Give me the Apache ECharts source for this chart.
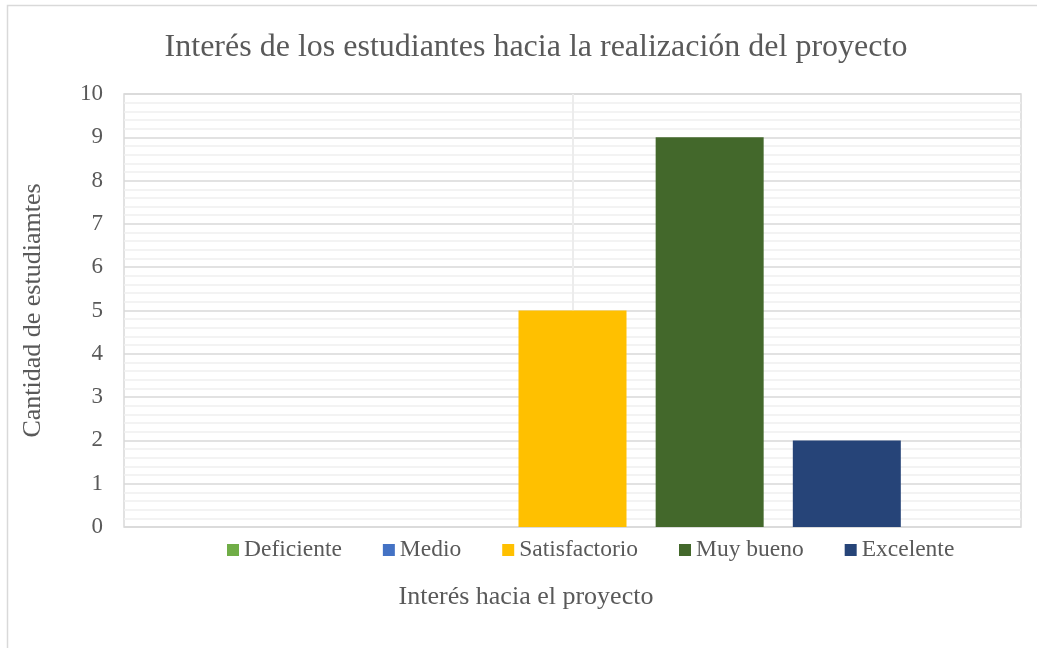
<!DOCTYPE html>
<html>
<head>
  <meta charset="utf-8">
  <title>Interés de los estudiantes</title>
  <script src="https://cdn.jsdelivr.net/npm/echarts@6/dist/echarts.min.js"></script>
  <style>
    html, body { margin: 0; padding: 0; background: #fff; }
    #chart { width: 1037px; height: 648px; }
  </style>
</head>
<body>
<div id="chart"></div>
<script type="text/javascript">
// datos del grafico
var categorias = [''];
var niveles = ['Deficiente', 'Medio', 'Satisfactorio', 'Muy bueno', 'Excelente'];
var cantidades = [0, 0, 5, 9, 2];
var colores = ['#70AD47', '#4472C4', '#FFC000', '#43682B', '#264478'];

var fuente = '"Liberation Serif", "Times New Roman", serif';
var gris = '#595959';

var chart = echarts.init(document.getElementById('chart'));

var series = [];
for (var i = 0; i < niveles.length; i++) {
  series.push({
    name: niveles[i],
    type: 'bar',
    data: [cantidades[i]],
    barWidth: 108,
    barGap: '27%',
    z: 3,
    itemStyle: { color: colores[i] },
    silent: true
  });
}
// linea vertical clara en el centro de la categoria (detras de las barras)
series.push({
  name: 'centro',
  type: 'line',
  data: [null],
  z: 1,
  silent: true,
  markLine: {
    z: 1,
    silent: true,
    symbol: 'none',
    label: { show: false },
    lineStyle: { color: '#ececec', width: 2, type: 'solid' },
    data: [{ xAxis: 0 }]
  }
});

var option = {
  animation: false,
  backgroundColor: '#fff',
  title: {
    text: 'Interés de los estudiantes hacia la realización del proyecto',
    left: 531,
    textAlign: 'center',
    top: 27,
    textStyle: { fontFamily: fuente, fontSize: 32, fontWeight: 'normal', color: gris }
  },
  graphic: [
    {
      type: 'rect',
      shape: { x: 7.5, y: 5.5, width: 1100, height: 700 },
      style: { fill: 'none', stroke: '#d9d9d9', lineWidth: 1.5 },
      silent: true
    },
    {
      type: 'text',
      x: 526,
      y: 597,
      style: {
        text: 'Interés hacia el proyecto',
        font: '26px ' + fuente,
        fill: gris,
        align: 'center',
        verticalAlign: 'middle'
      },
      silent: true
    }
  ],
  legend: {
    data: niveles,
    left: 222,
    top: 533,
    icon: 'rect',
    itemWidth: 12,
    itemHeight: 12,
    itemGap: 41,
    textStyle: { fontFamily: fuente, fontSize: 23.5, color: gris },
    selectedMode: false
  },
  grid: {
    left: 124,
    right: 16,
    top: 94,
    bottom: 121,
    show: true,
    borderColor: '#d9d9d9',
    borderWidth: 1.5
  },
  xAxis: {
    type: 'category',
    data: categorias,
    axisLine: { show: false },
    axisTick: { show: false },
    axisLabel: { show: false },
    splitLine: { show: false }
  },
  yAxis: {
    type: 'value',
    min: 0,
    max: 10,
    interval: 1,
    name: 'Cantidad de estudiamtes',
    nameLocation: 'middle',
    nameGap: 78,
    nameTextStyle: { fontFamily: fuente, fontSize: 26, color: gris },
    axisLine: { show: false },
    axisTick: { show: false },
    axisLabel: { fontFamily: fuente, fontSize: 23, color: gris, margin: 21 },
    splitLine: { lineStyle: { color: '#d9d9d9', width: 1.5 } },
    minorTick: { show: false, splitNumber: 5 },
    minorSplitLine: { show: true, lineStyle: { color: '#efefef', width: 1.5 } }
  },
  series: series
};

chart.setOption(option);
</script>
</body>
</html>
